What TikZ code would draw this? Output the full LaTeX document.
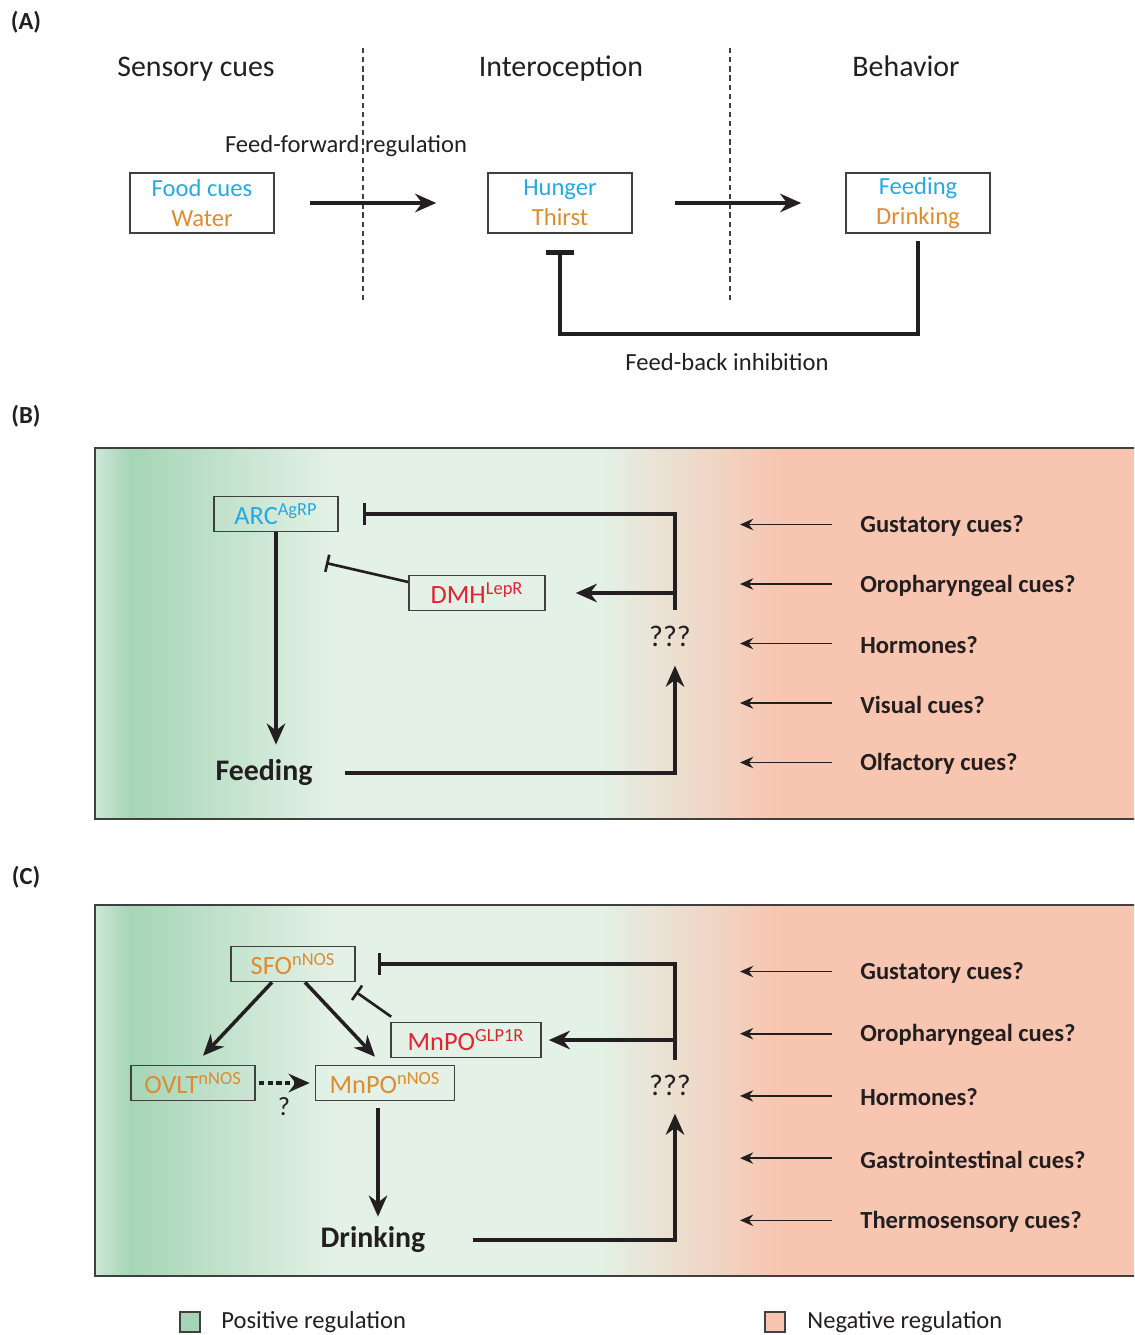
\documentclass[tikz,border=0pt]{standalone}
\usepackage{fontspec}
\setmainfont{Carlito}
\usetikzlibrary{arrows.meta}
\definecolor{ink}{RGB}{35,31,32}
\definecolor{edge}{RGB}{64,64,64}
\definecolor{foodblue}{RGB}{38,169,224}
\definecolor{waterorange}{RGB}{221,140,48}
\definecolor{inhibred}{RGB}{225,35,50}
\definecolor{posgreen}{RGB}{165,213,182}
\definecolor{poslight}{RGB}{227,241,230}
\definecolor{negpink}{RGB}{248,197,176}
\tikzset{
  tag/.style={font=\bfseries\fontsize{14}{16}\selectfont, text=ink},
  heading/.style={anchor=base, font=\fontsize{17}{20}\selectfont, text=ink},
  note/.style={font=\fontsize{14}{17}\selectfont, text=ink},
  abox/.style={draw=edge, line width=0.9pt, minimum width=2.88cm, minimum height=1.2cm,
    align=center, inner sep=0pt, font=\fontsize{14}{17}\selectfont},
  nbox/.style={draw=edge, line width=0.9pt, minimum height=0.7cm, inner sep=0pt,
    font=\fontsize{15}{18}\selectfont},
  bigbold/.style={font=\bfseries\fontsize{17}{20}\selectfont, text=ink, inner sep=0pt},
  qmark/.style={font=\fontsize{17}{20}\selectfont, text=ink, inner sep=0pt},
  cuetext/.style={anchor=west, inner sep=0pt, font=\bfseries\fontsize{14}{17}\selectfont, text=ink},
  divider/.style={draw=edge, line width=0.8pt, dash pattern=on 3pt off 2.2pt},
  panel/.style={draw=edge, line width=1.1pt},
  fwd/.style={draw=ink, line width=2pt, -{Stealth[length=12pt, width=10.5pt]}},
  inh/.style={draw=ink, line width=2pt, -{Bar[width=12pt, line width=2pt]}},
  inhA/.style={draw=ink, line width=2pt, -{Bar[width=16pt, line width=3pt]}},
  inhthin/.style={draw=ink, line width=1.5pt, -{Bar[width=10pt, line width=1.5pt]}},
  cue/.style={draw=ink, line width=0.9pt, -{Stealth[length=7.5pt, width=6.5pt]}},
  legsq/.style={draw=edge, line width=0.9pt, minimum size=0.4cm, inner sep=0pt}
}

\begin{document}
\begin{tikzpicture}[x=0.02cm, y=-0.02cm]
  \clip (0,0) rectangle (1134,1335);

  % (A) feed-forward / feed-back scheme
  \node[tag] (tagA) at (26,22) {(A)};
  \node[heading] (sens) at (196,77) {Sensory cues};
  \node[heading] (intero) at (561,77) {Interoception};
  \node[heading] (behav) at (906,77) {Behavior};
  \node[note] (ffwd) at (346,146) {Feed-forward regulation};
  \draw[divider] (363,48) -- (363,300);
  \draw[divider] (730,48) -- (730,300);

  \node[abox] (food) at (202,203) {\textcolor{foodblue}{Food cues}\\\textcolor{waterorange}{Water}};
  \node[abox] (hunger) at (560,203) {\textcolor{foodblue}{Hunger}\\\textcolor{waterorange}{Thirst}};
  \node[abox] (feeding) at (918,203) {\textcolor{foodblue}{Feeding}\\\textcolor{waterorange}{Drinking}};
  \draw[fwd, shorten <=0.7cm, shorten >=1.02cm] (food) -- (hunger);
  \draw[fwd, shorten <=0.84cm, shorten >=0.88cm] (hunger) -- (feeding);
  \draw[inhA, shorten <=0.14cm, shorten >=0.32cm] (feeding.south) -- ++(0,100) -| (hunger.south);
  \node[note] (fback) at (727,362) {Feed-back inhibition};

  % panel backgrounds
  \foreach \top/\bot in {448/819, 905/1276} {
    \shade[left color=white!45!posgreen, right color=posgreen] (95,\top) rectangle (130,\bot);
    \shade[left color=posgreen, right color=poslight] (130,\top) rectangle (330,\bot);
    \fill[poslight] (329,\top) rectangle (601,\bot);
    \shade[left color=poslight, right color=negpink] (600,\top) rectangle (780,\bot);
    \fill[negpink] (779,\top) rectangle (1150,\bot);
    \draw[panel] (95,\top) rectangle (1150,\bot);
  }

  % (B) feeding circuit
  \node[tag] (tagB) at (26,416) {(B)};
  \node[nbox, minimum width=2.48cm, text=foodblue] (arc) at (276,514) {ARC\textsuperscript{AgRP}};
  \node[nbox, minimum width=2.72cm, text=inhibred] (dmh) at (477,593) {DMH\textsuperscript{LepR}};
  \node[bigbold] (feed) at (264,773) {Feeding};
  \node[qmark] (qB) at (670,636) {???};
  \coordinate (hubB) at (675,610);
  \coordinate (dmhstop) at (326,563);
  \draw[inh, shorten >=0.48cm] (hubB) |- (arc.east);
  \draw[fwd, shorten >=0.6cm] (hubB |- dmh.east) -- (dmh.east);
  \draw[inhthin] ([yshift=0.22cm]dmh.west) -- (dmhstop);
  \draw[fwd, shorten >=0.3cm] (arc.south) -- (arc.south |- feed.north);
  \draw[fwd, shorten <=0.64cm, shorten >=0.38cm] (feed.east) -| (hubB |- qB.south);
  \foreach \cue [count=\i] in {Gustatory cues?, Oropharyngeal cues?, Hormones?, Visual cues?, Olfactory cues?} {
    \node[cuetext] (cueB\i) at (860,{526+59.5*(\i-1)}) {\cue};
    \draw[cue] ([xshift=-0.56cm, yshift=0.03cm]cueB\i.west) -- ++(-92,0);
  }

  % (C) drinking circuit
  \node[tag] (tagC) at (26,877) {(C)};
  \node[nbox, minimum width=2.48cm, text=waterorange] (sfo) at (293,964) {SFO\textsuperscript{nNOS}};
  \node[nbox, minimum width=2.48cm, text=waterorange] (ovlt) at (193,1083) {OVLT\textsuperscript{nNOS}};
  \node[nbox, minimum width=2.78cm, text=waterorange] (mnpo) at (385,1083) {MnPO\textsuperscript{nNOS}};
  \node[nbox, minimum width=3.0cm, text=inhibred] (glp) at (466,1040) {MnPO\textsuperscript{GLP1R}};
  \node[bigbold] (drink) at (373,1240) {Drinking};
  \node[qmark] (qC) at (670,1085) {???};
  \node[qmark, font=\fontsize{15}{18}\selectfont] (qdash) at (284,1107) {?};
  \coordinate (hubC) at (675,1060);
  \coordinate (glpstop) at (356,992);
  \draw[inh, shorten >=0.44cm] (hubC) |- (sfo.east);
  \draw[fwd, shorten >=0.14cm] (hubC |- glp.east) -- (glp.east);
  \draw[inhthin] ([xshift=0.02cm, yshift=0.1cm]glp.north west) -- (glpstop);
  \draw[fwd] ([xshift=-0.42cm]sfo.south) -- ([xshift=0.2cm, yshift=0.18cm]ovlt.north);
  \draw[fwd] ([xshift=0.24cm]sfo.south) -- ([xshift=-0.2cm, yshift=0.16cm]mnpo.north);
  \draw[fwd, dash pattern=on 3pt off 2pt, shorten <=0.06cm, shorten >=0.1cm] (ovlt.east) -- (mnpo.west);
  \draw[fwd, shorten <=0.14cm, shorten >=0.2cm] ([xshift=-0.14cm]mnpo.south) -- ([xshift=-0.14cm]mnpo.south |- drink.north);
  \draw[fwd, shorten <=0.94cm, shorten >=0.36cm] (drink.east) -| (hubC |- qC.south);
  \foreach \cue [count=\i] in {Gustatory cues?, Oropharyngeal cues?, Hormones?, Gastrointestinal cues?, Thermosensory cues?} {
    \node[cuetext] (cueC\i) at (860,{973+62.2*(\i-1)}) {\cue};
    \draw[cue] ([xshift=-0.56cm, yshift=0.03cm]cueC\i.west) -- ++(-92,0);
  }

  % legend
  \node[legsq, fill=posgreen] (posq) at (190,1322) {};
  \node[note, anchor=west, inner sep=0pt] (postxt) at (221,1322) {Positive regulation};
  \node[legsq, fill=negpink] (negq) at (775,1322) {};
  \node[note, anchor=west, inner sep=0pt] (negtxt) at (807,1322) {Negative regulation};
\end{tikzpicture}
\end{document}
